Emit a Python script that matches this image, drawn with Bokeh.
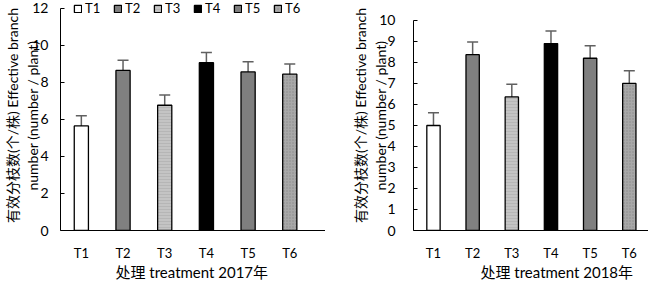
from bokeh.plotting import figure
from bokeh.models import (ColumnDataSource, Whisker, TeeHead, FixedTicker, Legend,
                          LegendItem, Range1d, Title)
from bokeh.layouts import row
from bokeh.embed import file_html
from bokeh.resources import INLINE

categories = ["T1", "T2", "T3", "T4", "T5", "T6"]
values_2017 = [5.65, 8.65, 6.77, 9.07, 8.57, 8.45]
errors_2017 = [0.55, 0.55, 0.55, 0.55, 0.55, 0.55]
values_2018 = [5.0, 8.37, 6.36, 8.9, 8.2, 7.0]
errors_2018 = [0.6, 0.6, 0.6, 0.6, 0.6, 0.6]
y_ticks_2017 = [0, 2, 4, 6, 8, 10, 12]
y_ticks_2018 = [0, 1, 2, 3, 4, 5, 6, 7, 8, 9, 10]

fills = ["#ffffff", "#808080", "#c4c4c4", "#000000", "#7f7f7f", "#a8a8a8"]
hatches = [" ", " ", "horizontal_line", " ", " ", "dot"]
hatch_colors = ["#000000", "#000000", "#b0b0b0", "#000000", "#000000", "#8a8a8a"]

NUMFONT = "Lato"
FONT = "Lato, 'Noto Sans CJK SC'"
YTITLE = "有效分枝数(个/株) Effective branch\nnumber (number / plant)"

H = 280
BB = 50
BT = 0


def make(values, errors, yticks, ymax, yend, year, xr, width, bl, legend,
         tick_standoff, label_standoff, title_offset):
    xs = list(range(1, len(categories) + 1))
    src = ColumnDataSource(dict(
        x=xs, cat=categories, top=values,
        lower=[v - e for v, e in zip(values, errors)],
        upper=[v + e for v, e in zip(values, errors)],
        fill=fills, hatch=hatches, hcol=hatch_colors,
    ))
    p = figure(width=width, height=H, output_backend="svg", toolbar_location=None,
               x_range=Range1d(*xr), y_range=Range1d(0, yend),
               min_border_left=bl, min_border_right=0, min_border_top=BT, min_border_bottom=BB)
    p.outline_line_color = None
    p.grid.visible = False
    p.background_fill_color = "white"
    r = p.vbar(x="x", top="top", width=0.34, source=src, fill_color="fill",
               line_color="#000000", line_width=1.3,
               hatch_pattern="hatch", hatch_color="hcol", hatch_scale=3, hatch_weight=0.7)
    w = Whisker(base="x", lower="lower", upper="upper", source=src,
                line_color="#606060", line_width=1.5,
                upper_head=TeeHead(size=11, line_color="#606060", line_width=1.5),
                lower_head=TeeHead(size=11, line_color="#606060", line_width=1.5))
    p.add_layout(w)

    p.xaxis.ticker = FixedTicker(ticks=xs)
    p.xaxis.major_label_overrides = {x: c for x, c in zip(xs, categories)}
    p.xaxis.major_tick_line_color = None
    p.xaxis.minor_tick_line_color = None
    p.xaxis.major_tick_in = 0
    p.xaxis.major_tick_out = 0
    p.xaxis.axis_line_color = "#000000"
    p.xaxis.major_label_standoff = 14
    p.xaxis.major_label_text_font = NUMFONT
    p.xaxis.major_label_text_font_size = "13px"
    p.xaxis.major_label_text_color = "#000000"

    p.add_layout(Title(text="处理 treatment %s年" % year, align="left", offset=title_offset,
                       standoff=-6, text_font=FONT, text_font_size="15px",
                       text_font_style="normal", text_color="#000000"), "below")

    p.yaxis.ticker = FixedTicker(ticks=yticks)
    p.yaxis.bounds = (0, ymax)
    p.yaxis.minor_tick_line_color = None
    p.yaxis.major_tick_in = 4
    p.yaxis.major_tick_out = 0
    p.yaxis.axis_line_color = "#000000"
    p.yaxis.major_label_standoff = tick_standoff
    p.yaxis.major_label_text_font = NUMFONT
    p.yaxis.major_label_text_font_size = "14px"
    p.yaxis.major_label_text_color = "#000000"
    p.yaxis.axis_label = YTITLE
    p.yaxis.axis_label_text_font = FONT
    p.yaxis.axis_label_text_font_size = "14px"
    p.yaxis.axis_label_text_font_style = "normal"
    p.yaxis.axis_label_text_color = "#000000"
    p.yaxis.axis_label_standoff = label_standoff

    if legend:
        items = [LegendItem(label=c, renderers=[r], index=i) for i, c in enumerate(categories)]
        fh = H - BT - BB
        lg = Legend(items=items, orientation="horizontal", location=(13, fh - 16),
                    glyph_width=9, glyph_height=9, label_text_font=NUMFONT,
                    label_text_font_size="13px", label_standoff=3, spacing=8,
                    label_width=20, padding=0, margin=0, border_line_color=None,
                    background_fill_alpha=0, label_height=12, label_text_color="#000000")
        p.add_layout(lg)
    return p


p1 = make(values_2017, errors_2017, y_ticks_2017, 12, 12.43, 2017, (0.5, 6.857), 325, 58, True,
          12, -12, 55)
p2 = make(values_2018, errors_2018, y_ticks_2018, 10, 10.95, 2018, (0.49, 6.49), 323, 88, False,
          18, -13, 67)

layout = row(p1, p2)
open("out.html", "w").write(file_html(layout, INLINE))
